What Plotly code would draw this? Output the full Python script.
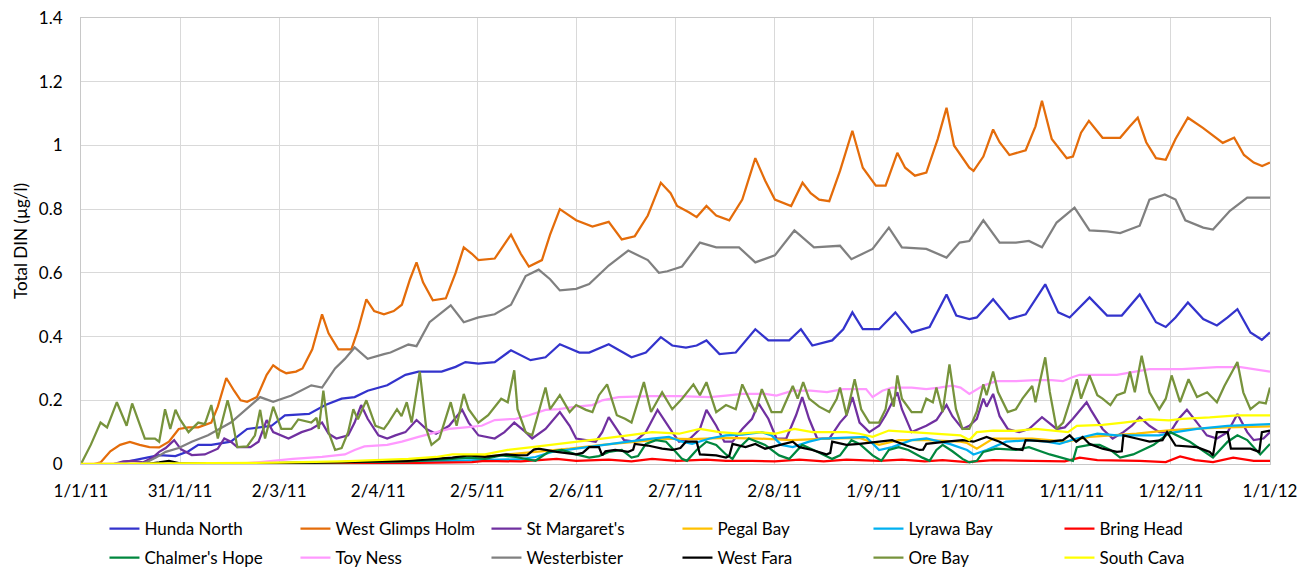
import plotly.graph_objects as go

# ---- tick labels ----
x_tick_labels = ["1/1/11", "31/1/11", "2/3/11", "2/4/11", "2/5/11", "2/6/11", "2/7/11",
                 "2/8/11", "1/9/11", "1/10/11", "1/11/11", "1/12/11", "1/1/12"]
y_tick_vals = [0, 0.2, 0.4, 0.6, 0.8, 1.0, 1.2, 1.4]
y_tick_labels = ["0", "0.2", "0.4", "0.6", "0.8", "1", "1.2", "1.4"]

# ---- series: day-of-year (from 1/1/11) and Total DIN values ----
hunda_days = [0, 10, 13, 18, 24, 29, 33, 36, 40, 46, 51, 58.5, 62.6, 70, 75, 80, 84, 88, 94, 99.6, 103.6, 110.7, 115, 118, 122, 127, 132, 138, 142.6, 147, 153, 156, 162, 169, 173.4, 178, 181.5, 185.7, 189, 192, 196, 201, 204, 207, 211, 217.4, 221, 224.5, 230.6, 234, 236.8, 240, 245, 250, 255, 260.5, 265.7, 268.7, 272.7, 275, 280, 285, 290, 296, 300, 303.5, 309.6, 315, 319.5, 325, 330, 333, 336, 339.8, 344.5, 348.7, 352, 355, 359, 362.5, 365]
hunda_vals = [0, 0, 0.005, 0.015, 0.028, 0.025, 0.04, 0.06, 0.06, 0.07, 0.11, 0.12, 0.153, 0.157, 0.185, 0.205, 0.21, 0.23, 0.247, 0.28, 0.29, 0.29, 0.305, 0.32, 0.315, 0.32, 0.357, 0.326, 0.335, 0.376, 0.35, 0.35, 0.376, 0.335, 0.35, 0.398, 0.372, 0.365, 0.372, 0.388, 0.345, 0.35, 0.385, 0.423, 0.388, 0.388, 0.423, 0.372, 0.388, 0.423, 0.476, 0.423, 0.423, 0.476, 0.413, 0.43, 0.532, 0.466, 0.455, 0.46, 0.517, 0.455, 0.47, 0.564, 0.476, 0.46, 0.523, 0.466, 0.466, 0.532, 0.445, 0.43, 0.46, 0.507, 0.455, 0.435, 0.46, 0.486, 0.413, 0.39, 0.413]

wgh_days = [0, 4, 6, 9, 12, 15, 18, 21, 24, 27, 30, 33, 36, 40, 42, 44.6, 47, 49, 51, 54, 57, 59, 61, 63, 66, 68, 71, 74, 76, 79, 83, 85, 87.6, 90, 93, 96, 98.5, 101, 103, 105, 108, 112, 115, 117.5, 120, 122, 127, 130, 132, 135, 137.5, 141.5, 144, 147, 150, 152, 157, 162, 166, 170, 174, 178, 181, 183, 186.6, 189, 192, 195, 199, 203, 207, 210, 213, 218, 221.5, 224, 226.6, 229.7, 233, 236.8, 240, 244, 247, 250.6, 253, 256, 259.5, 263, 265.7, 268, 272.7, 274, 277, 280, 282, 285, 290, 293, 295, 298, 302.6, 304.5, 307, 309.4, 313.6, 319, 322, 324.4, 327, 330, 333, 336, 339.8, 344.4, 350.5, 354, 357, 360, 362.6, 365]
wgh_vals = [0, 0, 0.005, 0.04, 0.06, 0.069, 0.06, 0.053, 0.052, 0.07, 0.11, 0.115, 0.115, 0.13, 0.18, 0.27, 0.23, 0.2, 0.195, 0.21, 0.28, 0.31, 0.295, 0.285, 0.29, 0.30, 0.36, 0.47, 0.41, 0.36, 0.36, 0.42, 0.517, 0.48, 0.47, 0.48, 0.50, 0.58, 0.633, 0.57, 0.514, 0.52, 0.6, 0.68, 0.66, 0.64, 0.645, 0.69, 0.72, 0.66, 0.62, 0.64, 0.72, 0.80, 0.78, 0.765, 0.745, 0.76, 0.705, 0.715, 0.78, 0.883, 0.85, 0.81, 0.79, 0.775, 0.81, 0.78, 0.765, 0.83, 0.96, 0.89, 0.83, 0.81, 0.883, 0.85, 0.83, 0.825, 0.92, 1.046, 0.93, 0.874, 0.874, 0.977, 0.93, 0.905, 0.915, 1.02, 1.118, 1.0, 0.93, 0.92, 0.965, 1.05, 1.01, 0.97, 0.985, 1.06, 1.14, 1.02, 0.96, 0.965, 1.04, 1.077, 1.024, 1.024, 1.06, 1.087, 1.01, 0.96, 0.955, 1.02, 1.087, 1.055, 1.008, 1.024, 0.97, 0.946, 0.935, 0.946]

stm_days = [0, 10, 13, 16, 19, 22, 24, 26, 28.6, 30.7, 34, 38, 42, 44, 46, 48, 52, 54.5, 57, 59, 63.7, 67.7, 70.7, 74, 76, 78.4, 82, 84, 86, 88, 91.3, 94, 96.5, 99.6, 103, 106, 109, 113, 117, 119, 122, 127, 130, 133, 136.5, 138.5, 142.6, 147, 150, 152, 158, 160, 162, 164.5, 166.7, 170, 173.4, 177, 179.5, 181.5, 183.6, 187, 190, 192, 195, 197.5, 200, 203, 206, 208, 211, 213.5, 216.5, 219.5, 221.4, 223.5, 226, 229.7, 233, 235, 236.8, 239, 242, 245, 247, 250.6, 252, 255, 259.5, 262.6, 265.7, 267.5, 270.6, 272.7, 275, 277, 278, 280, 282, 284.5, 288, 291, 295, 299.5, 302, 304.5, 308.7, 310, 313.6, 316.7, 320, 322.6, 325, 328, 331, 334.4, 337, 339.5, 342.6, 345.6, 348.7, 352, 355, 358, 360, 363, 365]
stm_vals = [0, 0, 0.008, 0.01, 0.005, 0.02, 0.038, 0.05, 0.075, 0.046, 0.028, 0.03, 0.048, 0.08, 0.07, 0.053, 0.053, 0.07, 0.138, 0.1, 0.08, 0.1, 0.11, 0.13, 0.095, 0.08, 0.09, 0.13, 0.185, 0.142, 0.09, 0.08, 0.09, 0.1, 0.138, 0.11, 0.095, 0.12, 0.17, 0.13, 0.09, 0.08, 0.1, 0.13, 0.1, 0.08, 0.11, 0.163, 0.12, 0.08, 0.07, 0.1, 0.147, 0.11, 0.075, 0.07, 0.1, 0.17, 0.13, 0.1, 0.07, 0.08, 0.11, 0.17, 0.12, 0.07, 0.07, 0.11, 0.142, 0.19, 0.142, 0.08, 0.08, 0.153, 0.21, 0.142, 0.08, 0.08, 0.13, 0.153, 0.21, 0.13, 0.1, 0.12, 0.153, 0.225, 0.172, 0.1, 0.12, 0.138, 0.185, 0.15, 0.11, 0.12, 0.142, 0.205, 0.18, 0.22, 0.15, 0.11, 0.1, 0.11, 0.147, 0.11, 0.115, 0.142, 0.194, 0.17, 0.11, 0.08, 0.1, 0.12, 0.147, 0.12, 0.1, 0.1, 0.142, 0.17, 0.13, 0.09, 0.08, 0.1, 0.157, 0.1, 0.075, 0.08, 0.1]

pegal_days = [0, 60, 90, 109, 127, 139.5, 150, 160, 170, 180.5, 187.6, 198, 208, 218, 229, 239, 245, 251, 259.5, 270, 272, 275, 280, 292, 302.6, 309.6, 324, 333, 340.4, 352, 365]
pegal_vals = [0, 0, 0.005, 0.016, 0.026, 0.038, 0.048, 0.06, 0.07, 0.08, 0.078, 0.082, 0.08, 0.075, 0.08, 0.082, 0.06, 0.075, 0.075, 0.07, 0.066, 0.048, 0.08, 0.08, 0.07, 0.085, 0.095, 0.105, 0.11, 0.115, 0.118]

lyrawa_days = [0, 60, 90, 120, 135, 139.5, 144.6, 152, 160, 168, 175.3, 180.5, 184.5, 187.6, 193, 198, 203, 209, 212, 215, 218.5, 223.5, 227.6, 235, 241, 245, 249, 255, 259.5, 266.6, 272, 274, 278, 284, 291, 296.4, 300.4, 305.7, 312, 318, 324, 331, 336, 342.6, 352, 365]
lyrawa_vals = [0, 0, 0.004, 0.01, 0.015, 0.022, 0.038, 0.048, 0.06, 0.07, 0.08, 0.085, 0.07, 0.063, 0.08, 0.09, 0.092, 0.1, 0.09, 0.06, 0.053, 0.07, 0.08, 0.082, 0.085, 0.044, 0.053, 0.075, 0.08, 0.063, 0.044, 0.03, 0.044, 0.07, 0.075, 0.07, 0.063, 0.08, 0.095, 0.09, 0.09, 0.09, 0.1, 0.11, 0.12, 0.125]

bring_days = [0, 60, 100, 120, 124, 135, 146, 152, 162, 169, 175.3, 183, 192, 198, 206, 213, 220.5, 228, 235, 245, 252, 259, 264.5, 272, 280, 292, 302, 306.6, 312, 325, 333, 337.4, 342, 347.5, 353.7, 360, 365]
bring_vals = [0, 0, 0.003, 0.006, 0.01, 0.008, 0.016, 0.01, 0.014, 0.008, 0.016, 0.01, 0.014, 0.01, 0.01, 0.008, 0.014, 0.008, 0.014, 0.01, 0.014, 0.008, 0.012, 0.006, 0.012, 0.01, 0.008, 0.02, 0.012, 0.01, 0.006, 0.024, 0.012, 0.006, 0.02, 0.01, 0.01]

chalmer_days = [0, 40, 60, 90, 100, 113, 119, 124, 129, 133.5, 139.5, 143.6, 147.6, 152, 156, 159, 162, 166, 169, 171, 173.4, 176.5, 179.6, 182.6, 184.5, 186, 189, 192, 195, 198, 200, 202, 205, 210, 214.3, 217.4, 219.5, 221.4, 225.7, 230.6, 233, 236.5, 239, 243, 245.7, 248, 251, 254, 258.3, 260.5, 262.6, 264.5, 267.5, 270.6, 272.7, 275, 277, 281, 287, 291, 297.4, 301.4, 304.5, 305.7, 309.6, 312.7, 316, 319, 323, 329.3, 334.4, 340.4, 344.5, 347.5, 352, 355, 358, 360.6, 362, 365]
chalmer_vals = [0, 0, 0.003, 0.006, 0.008, 0.015, 0.02, 0.016, 0.027, 0.022, 0.01, 0.038, 0.044, 0.03, 0.02, 0.025, 0.038, 0.044, 0.02, 0.025, 0.063, 0.075, 0.07, 0.038, 0.016, 0.01, 0.044, 0.07, 0.06, 0.03, 0.016, 0.05, 0.08, 0.06, 0.027, 0.016, 0.04, 0.06, 0.04, 0.016, 0.027, 0.075, 0.063, 0.027, 0.01, 0.044, 0.053, 0.044, 0.02, 0.01, 0.044, 0.06, 0.04, 0.016, 0.005, 0.01, 0.038, 0.048, 0.044, 0.053, 0.03, 0.02, 0.01, 0.053, 0.06, 0.06, 0.044, 0.02, 0.03, 0.06, 0.1, 0.07, 0.04, 0.02, 0.07, 0.09, 0.075, 0.044, 0.03, 0.063]

toyness_days = [0, 45, 50, 55, 65, 74, 81, 84, 87, 94, 98.5, 103.6, 109, 113, 118, 123, 127, 133.5, 137.5, 142.6, 146.7, 152, 157, 160, 165, 175, 183.6, 193, 198, 203, 210, 213.5, 218.5, 224, 229, 234, 241, 243, 246, 249, 255, 259.5, 263.5, 267.5, 270, 272.7, 277, 281, 287, 293, 298, 301.4, 304.5, 306.6, 318, 323, 328, 338, 348.7, 356, 365]
toyness_vals = [0, 0, 0.002, 0.006, 0.016, 0.022, 0.03, 0.044, 0.055, 0.06, 0.07, 0.085, 0.1, 0.11, 0.115, 0.12, 0.138, 0.142, 0.153, 0.17, 0.172, 0.18, 0.185, 0.2, 0.21, 0.213, 0.213, 0.21, 0.215, 0.22, 0.22, 0.215, 0.23, 0.23, 0.226, 0.235, 0.235, 0.21, 0.23, 0.24, 0.24, 0.235, 0.24, 0.246, 0.24, 0.22, 0.246, 0.26, 0.26, 0.263, 0.263, 0.26, 0.273, 0.28, 0.28, 0.29, 0.298, 0.298, 0.304, 0.304, 0.29]

wester_days = [0, 18, 20, 23, 26, 30, 34, 39, 46, 52, 55, 59, 64.6, 70.7, 74, 78, 81, 84, 88, 93, 95, 100.5, 103, 107, 113.5, 117.5, 122, 127, 132, 136.5, 140.5, 144, 147, 152, 156, 162, 168, 174, 177.4, 180, 184.5, 190, 195, 202, 207, 213, 219, 225, 233, 236.5, 243, 248, 252, 259.5, 265.7, 269.7, 272.7, 277, 282, 287, 291, 295, 299.5, 305, 309.6, 315, 319, 325, 328, 332.7, 336, 339, 344.5, 347.5, 352.7, 358, 365]
wester_vals = [0, 0, 0.005, 0.02, 0.038, 0.05, 0.07, 0.09, 0.13, 0.185, 0.21, 0.195, 0.215, 0.247, 0.24, 0.30, 0.33, 0.366, 0.33, 0.345, 0.35, 0.375, 0.37, 0.445, 0.498, 0.445, 0.46, 0.47, 0.50, 0.59, 0.61, 0.58, 0.545, 0.55, 0.565, 0.623, 0.67, 0.64, 0.60, 0.605, 0.62, 0.695, 0.68, 0.68, 0.633, 0.655, 0.733, 0.68, 0.685, 0.643, 0.675, 0.742, 0.68, 0.675, 0.648, 0.695, 0.70, 0.765, 0.695, 0.695, 0.70, 0.68, 0.758, 0.805, 0.733, 0.73, 0.725, 0.748, 0.83, 0.846, 0.83, 0.765, 0.742, 0.736, 0.795, 0.836, 0.836]

fara_days = [0, 20, 24, 27, 30, 50, 70, 90, 100, 114, 119, 124, 130.5, 134.4, 137, 139, 140.5, 146, 152, 154, 156, 159, 160, 161, 164, 168, 169.5, 170, 174, 178.4, 181.5, 184, 185.7, 189, 190, 195, 198, 199, 200, 204, 207, 210, 214.3, 218.5, 220.5, 224.5, 228.8, 230, 230.6, 235, 239, 244, 249, 253.4, 257.4, 258.5, 259.5, 265.7, 270.6, 274, 278, 282, 286, 289, 290, 297.4, 301.4, 303.5, 305.5, 307.5, 309.6, 313.6, 318, 319.5, 320, 324, 328, 332, 333.4, 336, 342.6, 346.5, 347.5, 348.7, 352, 353, 359, 361.7, 362.5, 365]
fara_vals = [0, 0, 0.005, 0.01, 0.003, 0.002, 0.004, 0.008, 0.01, 0.02, 0.027, 0.022, 0.03, 0.027, 0.028, 0.045, 0.048, 0.038, 0.03, 0.035, 0.053, 0.053, 0.027, 0.04, 0.044, 0.038, 0.045, 0.063, 0.058, 0.048, 0.044, 0.05, 0.07, 0.07, 0.03, 0.027, 0.02, 0.025, 0.063, 0.053, 0.063, 0.048, 0.058, 0.07, 0.053, 0.044, 0.03, 0.035, 0.07, 0.06, 0.063, 0.07, 0.075, 0.058, 0.044, 0.045, 0.063, 0.07, 0.075, 0.07, 0.085, 0.07, 0.048, 0.044, 0.075, 0.07, 0.075, 0.09, 0.07, 0.085, 0.063, 0.048, 0.038, 0.04, 0.09, 0.08, 0.07, 0.075, 0.1, 0.058, 0.053, 0.038, 0.027, 0.1, 0.1, 0.048, 0.048, 0.038, 0.1, 0.105]

ore_days = [0, 3, 6, 8, 11, 13, 14, 15.7, 17.5, 19.6, 22.7, 24, 25.8, 27.4, 29, 30.4, 33, 36, 38, 40, 42, 45, 46, 48, 51, 53.4, 55, 56.5, 59, 61.5, 64.6, 66.7, 70.7, 72.3, 73, 74.4, 76, 78, 80, 82, 83.6, 85, 87.6, 90.4, 93, 94.4, 97, 98.4, 100, 101.5, 104, 106, 107.6, 110, 113.5, 115.3, 117.5, 119, 122, 125, 129, 131, 133, 134, 136.5, 138.5, 140.5, 142.6, 144, 147, 150, 152, 155, 157, 159, 161.5, 164.5, 167, 169, 172.8, 175, 178.4, 181.5, 184.5, 188, 190, 192, 195, 198, 201, 203, 205, 207, 209, 212, 215, 218.5, 220, 221.7, 223.5, 226.6, 229.7, 232, 233, 235, 237.5, 239.5, 242, 245, 247, 248, 249.5, 250.6, 252, 255, 258, 259.5, 261.5, 262.6, 264.5, 266.6, 268.6, 270.6, 272.7, 275, 277, 278, 280, 281.5, 284.5, 287, 289, 292, 293, 296, 297.4, 299.5, 301.5, 305.7, 307, 309.6, 312, 313.6, 316, 318, 320.4, 322, 323.5, 325.6, 328, 331, 333, 334.8, 337.4, 340, 342.6, 345.7, 348.7, 351, 355, 356.8, 359, 361.7, 363.7, 365]
ore_vals = [0, 0.06, 0.13, 0.115, 0.194, 0.142, 0.12, 0.19, 0.14, 0.08, 0.08, 0.07, 0.172, 0.11, 0.17, 0.14, 0.1, 0.13, 0.125, 0.185, 0.08, 0.2, 0.16, 0.053, 0.055, 0.09, 0.17, 0.08, 0.18, 0.11, 0.11, 0.14, 0.13, 0.145, 0.11, 0.23, 0.1, 0.044, 0.05, 0.1, 0.172, 0.14, 0.2, 0.12, 0.11, 0.13, 0.172, 0.15, 0.194, 0.13, 0.29, 0.11, 0.06, 0.08, 0.194, 0.12, 0.22, 0.172, 0.13, 0.153, 0.205, 0.194, 0.294, 0.172, 0.1, 0.09, 0.163, 0.24, 0.172, 0.216, 0.163, 0.185, 0.17, 0.163, 0.216, 0.25, 0.153, 0.142, 0.13, 0.257, 0.163, 0.225, 0.172, 0.205, 0.25, 0.216, 0.257, 0.163, 0.185, 0.172, 0.25, 0.205, 0.163, 0.235, 0.163, 0.163, 0.245, 0.205, 0.257, 0.205, 0.18, 0.163, 0.205, 0.24, 0.153, 0.266, 0.172, 0.13, 0.13, 0.172, 0.235, 0.18, 0.278, 0.205, 0.163, 0.163, 0.205, 0.194, 0.24, 0.163, 0.313, 0.172, 0.11, 0.11, 0.165, 0.25, 0.216, 0.29, 0.226, 0.163, 0.172, 0.205, 0.245, 0.194, 0.335, 0.226, 0.11, 0.13, 0.266, 0.205, 0.278, 0.216, 0.205, 0.185, 0.216, 0.225, 0.29, 0.225, 0.34, 0.225, 0.172, 0.205, 0.278, 0.194, 0.266, 0.21, 0.225, 0.194, 0.245, 0.32, 0.225, 0.172, 0.194, 0.19, 0.24]

cava_days = [0, 30, 60, 80, 92, 100.5, 109, 114, 124, 131, 138.5, 146, 152, 160, 168, 175.3, 183.6, 190, 196, 202, 208, 213, 219, 224.5, 235, 239, 243, 248, 255, 262.6, 270, 272.7, 275, 280, 287, 293, 299.5, 303, 305.7, 313.6, 320, 328, 334, 338, 346.5, 355, 365]
cava_vals = [0, 0.002, 0.004, 0.008, 0.012, 0.016, 0.022, 0.03, 0.03, 0.044, 0.053, 0.063, 0.07, 0.08, 0.09, 0.1, 0.095, 0.11, 0.1, 0.095, 0.1, 0.095, 0.11, 0.1, 0.1, 0.095, 0.085, 0.105, 0.1, 0.095, 0.09, 0.075, 0.1, 0.105, 0.104, 0.11, 0.105, 0.1, 0.12, 0.123, 0.13, 0.14, 0.137, 0.142, 0.146, 0.153, 0.153]

series = [
    ("Hunda North", hunda_days, hunda_vals, "#3333CC", "legend"),
    ("West Glimps Holm", wgh_days, wgh_vals, "#E46C0A", "legend"),
    ("St Margaret's", stm_days, stm_vals, "#7030A0", "legend"),
    ("Pegal Bay", pegal_days, pegal_vals, "#FFC000", "legend"),
    ("Lyrawa Bay", lyrawa_days, lyrawa_vals, "#00B0F0", "legend"),
    ("Bring Head", bring_days, bring_vals, "#FF0000", "legend"),
    ("Chalmer's Hope", chalmer_days, chalmer_vals, "#00873E", "legend2"),
    ("Toy Ness", toyness_days, toyness_vals, "#FF99FF", "legend2"),
    ("Westerbister", wester_days, wester_vals, "#808080", "legend2"),
    ("West Fara", fara_days, fara_vals, "#000000", "legend2"),
    ("Ore Bay", ore_days, ore_vals, "#77933C", "legend2"),
    ("South Cava", cava_days, cava_vals, "#FFFF00", "legend2"),
]

fig = go.Figure()
for name, d, v, col, lg in series:
    fig.add_trace(go.Scatter(x=d, y=v, name=name, mode="lines",
                             line=dict(color=col, width=2.25), legend=lg))

n = len(x_tick_labels) - 1
x_tick_vals = [365.0 * k / n for k in range(n + 1)]

FONT = "Lato, Liberation Sans, Arial, sans-serif"
leg_common = dict(orientation="h", xref="container", yref="container",
                  xanchor="left", yanchor="middle", x=0.0737,
                  font=dict(family=FONT, size=17, color="#000000"),
                  entrywidth=146, entrywidthmode="pixels", itemwidth=30,
                  bgcolor="rgba(0,0,0,0)", traceorder="normal")

fig.update_layout(
    width=1309, height=569,
    margin=dict(l=73, r=47, t=10, b=113, autoexpand=False),
    paper_bgcolor="white", plot_bgcolor="white",
    font=dict(family=FONT, size=17, color="#000000"),
    showlegend=True,
    legend=dict(**leg_common, y=48 / 569),
    legend2=dict(**leg_common, y=19 / 569),
    xaxis=dict(range=[0, 365], tickmode="array", tickvals=x_tick_vals, ticktext=x_tick_labels,
               showgrid=True, gridcolor="#D9D9D9", gridwidth=1,
               showline=True, linecolor="#C8C8C8", linewidth=1, mirror=True,
               ticks="", ticklabelstandoff=12, zeroline=False, automargin=False,
               ticklabeloverflow="allow",
               tickfont=dict(family=FONT, size=17)),
    yaxis=dict(range=[0, 1.4], tickmode="array", tickvals=y_tick_vals, ticktext=y_tick_labels,
               showgrid=True, gridcolor="#D9D9D9", gridwidth=1,
               showline=True, linecolor="#C8C8C8", linewidth=1, mirror=True,
               ticks="", ticklabelstandoff=14, zeroline=False, automargin=False,
               ticklabeloverflow="allow",
               title=dict(text="Total DIN (µg/l)", font=dict(family=FONT, size=17), standoff=6),
               tickfont=dict(family=FONT, size=17)),
)

fig.write_html("out.html")
